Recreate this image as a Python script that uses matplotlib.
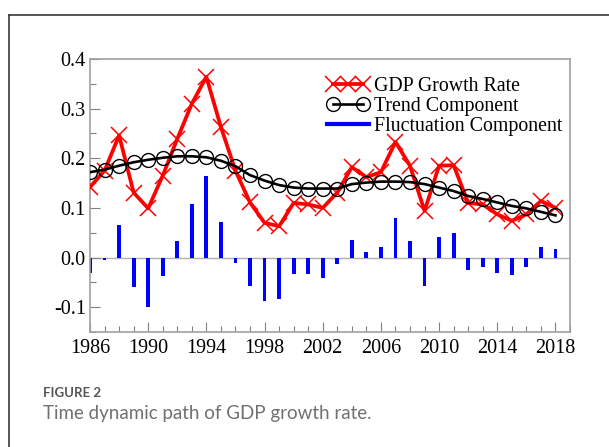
import matplotlib
matplotlib.use("Agg")
import matplotlib.pyplot as plt
from matplotlib.lines import Line2D
from matplotlib.legend_handler import HandlerLine2D
from matplotlib.ticker import MultipleLocator

years = list(range(1986, 2019))
gdp_growth = [0.142, 0.175, 0.246, 0.131, 0.099, 0.165, 0.239, 0.310, 0.364, 0.263,
              0.175, 0.111, 0.070, 0.063, 0.110, 0.107, 0.100, 0.131, 0.182, 0.162,
              0.172, 0.233, 0.185, 0.094, 0.185, 0.186, 0.110, 0.107, 0.087, 0.074,
              0.087, 0.114, 0.100]
trend = [0.172, 0.177, 0.185, 0.192, 0.197, 0.201, 0.204, 0.204, 0.202, 0.195,
         0.184, 0.166, 0.155, 0.146, 0.141, 0.139, 0.139, 0.139, 0.148, 0.151,
         0.153, 0.153, 0.152, 0.148, 0.141, 0.134, 0.124, 0.118, 0.111, 0.104,
         0.099, 0.092, 0.085]
fluctuation = [-0.031, -0.004, 0.065, -0.060, -0.099, -0.037, 0.033, 0.108, 0.164, 0.071,
               -0.010, -0.057, -0.087, -0.084, -0.033, -0.033, -0.042, -0.013, 0.035, 0.011,
               0.021, 0.080, 0.033, -0.057, 0.041, 0.049, -0.025, -0.020, -0.031, -0.035,
               -0.019, 0.021, 0.017]

serif = "Liberation Serif"
spine_col = "#a0a0a0"

fig = plt.figure(figsize=(6.09, 4.47), dpi=100)
ax = fig.add_axes([90 / 609, 1 - 332 / 447, 480 / 609, 273 / 447])

ax.axhline(0, color="#b0b0b0", lw=1, zorder=1)
ax.bar(years, fluctuation, width=0.26, color="#0000ff", zorder=2)
gdp_line, = ax.plot(years, gdp_growth, color="#ff0000", lw=2.7, marker="x", ms=11,
                    mew=1.1, zorder=3)
trend_line, = ax.plot(years, trend, color="black", lw=1.9, marker="o", ms=10,
                      mfc="none", mew=1.0, zorder=4)
fluct_proxy = Line2D([], [], color="#0000ff", lw=3)

ax.set_xlim(1986, 2019)
ax.set_ylim(-0.15, 0.4)
ax.xaxis.set_minor_locator(MultipleLocator(1))
ax.yaxis.set_minor_locator(MultipleLocator(0.05))
ax.set_xticks(range(1986, 2019, 4))
ax.set_yticks([-0.1, 0.0, 0.1, 0.2, 0.3, 0.4])
ax.set_yticklabels(["-0.1", "0.0", "0.1", "0.2", "0.3", "0.4"])

ax.tick_params(which="both", direction="in", color="#808080", width=0.8)
ax.tick_params(which="major", length=7)
ax.tick_params(which="minor", length=4)
ax.tick_params(axis="x", pad=5)
ax.tick_params(axis="y", pad=3)
for lab in ax.get_xticklabels() + ax.get_yticklabels():
    lab.set_fontfamily(serif)
    lab.set_fontsize(14.5)
for s in ax.spines.values():
    s.set_color(spine_col)
    s.set_linewidth(1.2)

ax.legend([gdp_line, trend_line, fluct_proxy],
          ["GDP Growth Rate", "Trend Component", "Fluctuation Component"],
          loc="upper left", bbox_to_anchor=(0.494, 0.933), frameon=False,
          prop={"family": serif, "size": 14.3}, handlelength=2.1,
          handletextpad=0.25, labelspacing=0.05, borderpad=0, borderaxespad=0,
          handler_map={gdp_line: HandlerLine2D(numpoints=3),
                       trend_line: HandlerLine2D(numpoints=2)})

# card border
fig.add_artist(Line2D([9 / 609, 1], [1 - 15 / 447, 1 - 15 / 447], color="#3a3a3a", lw=1.2))
fig.add_artist(Line2D([9 / 609, 9 / 609], [0, 1 - 15 / 447], color="#3a3a3a", lw=1.2))

fig.text(43 / 609, 1 - 393 / 447, "FIGURE 2", family="Lato", weight="bold",
         fontsize=9.5, color="#555555", va="center")
fig.text(43 / 609, 1 - 413 / 447, "Time dynamic path of GDP growth rate.", family="Lato",
         fontsize=13.5, color="#707070", va="center")

fig.savefig("out.png", dpi=100)
